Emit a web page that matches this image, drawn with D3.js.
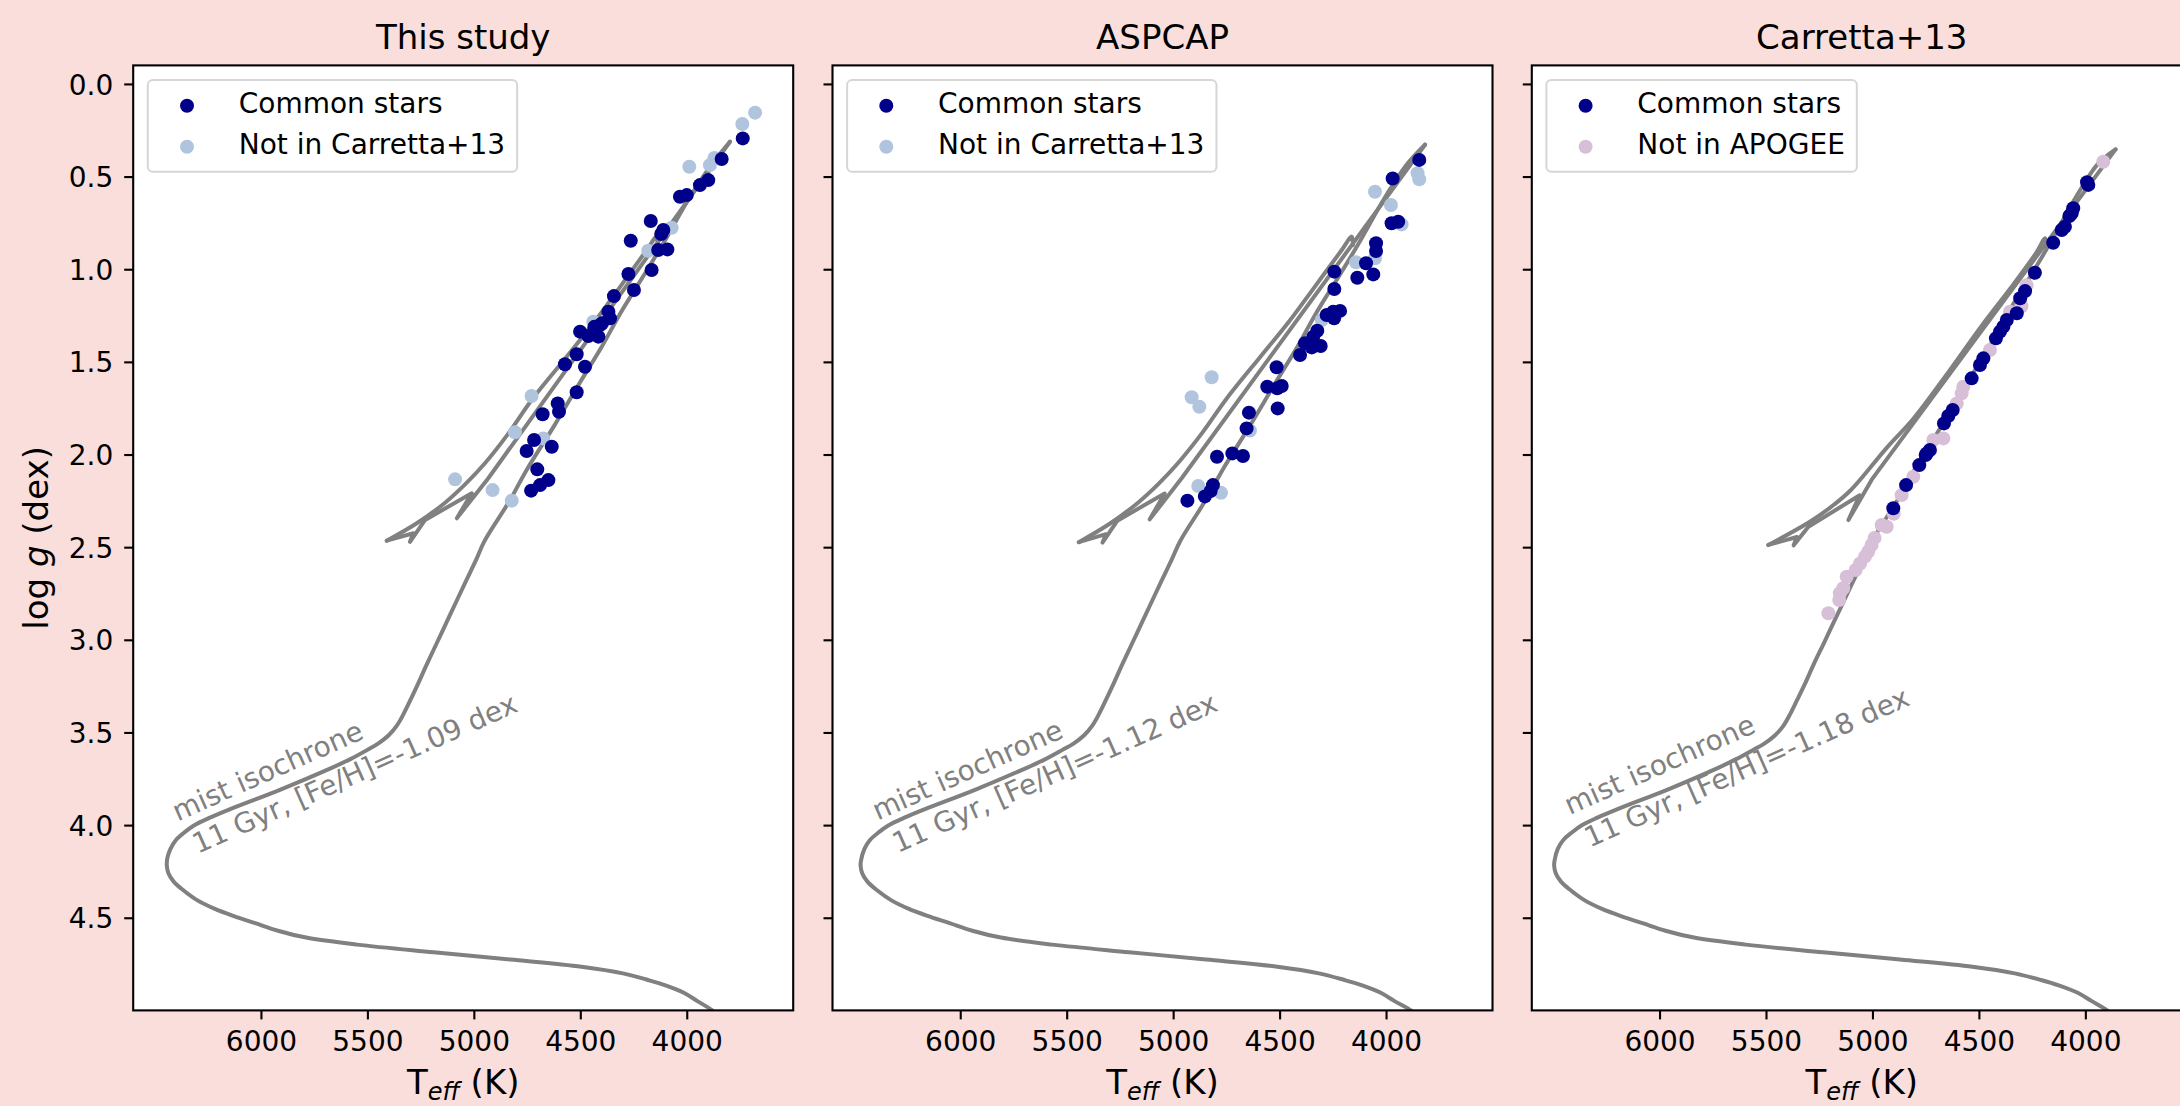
<!DOCTYPE html>
<html>
<head>
<meta charset="utf-8">
<script src="https://cdn.jsdelivr.net/npm/d3@7"></script>
<style>
  body { margin: 0; background: #f9dedc; }
  svg { display: block; font-family: "DejaVu Sans", sans-serif; }
</style>
</head>
<body>
<div class="canvas"></div>
<script>
// titles / legend texts
var titles = ["This study", "ASPCAP", "Carretta+13"];
var otherLabels = ["Not in Carretta+13", "Not in Carretta+13", "Not in APOGEE"];
var fehLabels = ["-1.09", "-1.12", "-1.18"];
var xTicks = [6000, 5500, 5000, 4500, 4000];
var yTicks = [0.0, 0.5, 1.0, 1.5, 2.0, 2.5, 3.0, 3.5, 4.0, 4.5];

// mist isochrones [Teff, logg], in three pieces: MS->RGB tip, tip->HB, HB->AGB
var rgb1 = [[3860,5.03],[3871,5.008],[3950,4.95],[4014,4.905],[4100,4.865],[4182,4.836],[4300,4.80],[4494,4.764],[4829,4.725],[5189,4.686],[5548,4.645],[5788,4.607],[5920,4.57],[6027,4.529],[6130,4.49],[6219,4.451],[6300,4.405],[6363,4.353],[6410,4.305],[6435,4.258],[6442,4.22],[6440,4.18],[6425,4.128],[6399,4.08],[6360,4.04],[6315,4.002],[6240,3.96],[6147,3.915],[5908,3.808],[5668,3.691],[5580,3.644],[5500,3.594],[5450,3.56],[5400,3.515],[5360,3.46],[5330,3.40],[5300,3.33],[5265,3.245],[5220,3.13],[5175,3.02],[5130,2.91],[5085,2.80],[5040,2.69],[4990,2.57],[4949,2.465],[4830,2.246],[4752,2.083],[4620,1.84],[4501,1.61],[4400,1.42],[4313,1.24],[4200,1.03],[4110,0.86],[3985,0.61],[3880,0.43],[3797,0.312]];
var hb1 = [[3797,0.312],[4932,2.128],[5080,2.344],[5010,2.209],[5229,2.353],[5300,2.471],[5284,2.425],[5409,2.465]];
var agb1 = [[5409,2.465],[5268,2.371],[5135,2.26],[5040,2.16],[4950,2.05],[4840,1.89],[4725,1.70],[4564,1.472],[4439,1.292],[4313,1.095],[4188,0.896],[4141,0.824],[4136,0.87]];

var rgb2 = [[3863,5.03],[3874,5.008],[3960,4.95],[4025,4.905],[4112,4.865],[4195,4.836],[4315,4.80],[4510,4.764],[4846,4.725],[5207,4.686],[5568,4.645],[5809,4.607],[5943,4.57],[6050,4.529],[6154,4.49],[6244,4.451],[6325,4.405],[6389,4.353],[6436,4.305],[6461,4.258],[6468,4.22],[6466,4.19],[6450,4.128],[6424,4.08],[6384,4.04],[6338,4.002],[6262,3.96],[6168,3.915],[5928,3.808],[5688,3.691],[5600,3.644],[5520,3.594],[5468,3.56],[5418,3.515],[5378,3.46],[5348,3.40],[5318,3.33],[5283,3.245],[5238,3.13],[5193,3.02],[5148,2.91],[5103,2.80],[5058,2.69],[5008,2.57],[4966,2.465],[4847,2.246],[4768,2.083],[4637,1.84],[4518,1.61],[4417,1.42],[4330,1.24],[4217,1.03],[4128,0.86],[4004,0.61],[3899,0.43],[3817,0.328]];
var hb2 = [[3817,0.328],[4960,2.128],[5110,2.35],[5040,2.21],[5262,2.357],[5332,2.476],[5316,2.43],[5443,2.473]];
var agb2 = [[5443,2.473],[5300,2.375],[5165,2.26],[5070,2.16],[4980,2.05],[4868,1.89],[4750,1.70],[4590,1.472],[4462,1.292],[4335,1.095],[4208,0.896],[4161,0.824],[4156,0.87]];

var rgb3 = [[3877,5.03],[3888,5.008],[3970,4.95],[4036,4.905],[4125,4.865],[4208,4.836],[4332,4.80],[4530,4.764],[4870,4.725],[5232,4.686],[5595,4.645],[5838,4.607],[5972,4.57],[6080,4.529],[6184,4.49],[6273,4.451],[6353,4.405],[6416,4.353],[6463,4.305],[6488,4.258],[6495,4.22],[6493,4.19],[6478,4.128],[6452,4.08],[6412,4.04],[6367,4.002],[6292,3.96],[6200,3.915],[5962,3.808],[5725,3.691],[5640,3.644],[5560,3.594],[5508,3.56],[5457,3.515],[5416,3.46],[5386,3.40],[5356,3.33],[5320,3.245],[5275,3.13],[5229,3.02],[5184,2.91],[5138,2.80],[5093,2.69],[5042,2.57],[5001,2.465],[4882,2.246],[4803,2.083],[4672,1.84],[4553,1.61],[4452,1.42],[4366,1.24],[4254,1.03],[4166,0.86],[4044,0.61],[3940,0.43],[3858,0.353]];
var hb3 = [[3858,0.353],[5000,2.13],[5113,2.354],[5060,2.22],[5301,2.39],[5370,2.49],[5355,2.445],[5489,2.488]];
var agb3 = [[5489,2.488],[5290,2.36],[5180,2.27],[5100,2.19],[4930,1.96],[4810,1.81],[4640,1.55],[4490,1.31],[4350,1.10],[4230,0.91],[4189,0.833],[4184,0.88]];

// where the "mist isochrone" note starts [Teff, logg]
var isoLabelAt = [[6391, 3.98], [6388, 3.975], [6422, 3.946]];

// This study
var common1 = [[3737,0.294],[3836,0.405],[3899,0.519],[3938,0.546],[4000,0.600],[4032,0.609],[4169,0.740],[4110,0.788],[4120,0.81],[4263,0.846],[4134,0.896],[4091,0.893],[4165,1.004],[4274,1.026],[4248,1.112],[4342,1.145],[4368,1.229],[4360,1.265],[4398,1.292],[4407,1.301],[4434,1.311],[4501,1.337],[4462,1.360],[4415,1.364],[4517,1.459],[4572,1.513],[4478,1.526],[4517,1.664],[4606,1.724],[4600,1.769],[4677,1.783],[4717,1.922],[4634,1.958],[4752,1.981],[4702,2.080],[4650,2.138],[4689,2.165],[4731,2.195]];
var other1 = [[3679,0.155],[3739,0.216],[3988,0.447],[3891,0.438],[3870,0.40],[4071,0.776],[4181,0.900],[4439,1.283],[4729,1.684],[4807,1.880],[4674,1.913],[5088,2.134],[4912,2.192],[4822,2.249]];
// ASPCAP
var common2 = [[3844,0.410],[3969,0.510],[3974,0.752],[3943,0.744],[4047,0.860],[4047,0.902],[4094,0.968],[4135,1.046],[4060,1.028],[4243,1.013],[4243,1.107],[4248,1.229],[4216,1.225],[4279,1.247],[4244,1.265],[4323,1.332],[4342,1.364],[4381,1.400],[4307,1.414],[4349,1.422],[4404,1.463],[4514,1.529],[4558,1.634],[4511,1.643],[4490,1.630],[4509,1.751],[4644,1.774],[4655,1.859],[4794,2.012],[4722,1.994],[4672,2.008],[4813,2.165],[4824,2.197],[4851,2.226],[4933,2.249]];
var other2 = [[3852,0.482],[3844,0.515],[4052,0.582],[3977,0.653],[3927,0.758],[4141,0.963],[4052,0.941],[4302,1.274],[4819,1.583],[4913,1.691],[4877,1.742],[4639,1.871],[4882,2.170],[4775,2.207]];
// Carretta+13
var common3 = [[3986,0.545],[3992,0.53],[4057,0.671],[4064,0.698],[4075,0.713],[4096,0.771],[4111,0.788],[4151,0.857],[4237,1.019],[4283,1.118],[4306,1.157],[4322,1.238],[4369,1.274],[4385,1.310],[4401,1.337],[4420,1.373],[4479,1.481],[4495,1.517],[4534,1.589],[4623,1.760],[4644,1.792],[4664,1.832],[4730,1.976],[4745,1.994],[4750,2.003],[4780,2.057],[4842,2.165],[4902,2.290]];
var other3 = [[3916,0.420],[4276,1.086],[4300,1.20],[4354,1.229],[4448,1.436],[4573,1.634],[4581,1.670],[4604,1.724],[4667,1.913],[4714,1.922],[4808,2.120],[4863,2.219],[4900,2.32],[4933,2.390],[4957,2.380],[4990,2.45],[5004,2.488],[5020,2.524],[5035,2.551],[5058,2.588],[5079,2.623],[5121,2.660],[5137,2.722],[5153,2.749],[5156,2.785],[5207,2.857]];

var isos = [[rgb1, hb1, agb1], [rgb2, hb2, agb2], [rgb3, hb3, agb3]];
var commons = [common1, common2, common3];
var others = [other1, other2, other3];
var otherColors = ["#b0c4de", "#b0c4de", "#d8bfd8"];

var width = 2180, height = 1106;
var panelLeft = [133.2, 832.5, 1531.8];
var panelTop = 65.4, pw = 660, ph = 945;
var small = "28px", big = "34px";

var svg = d3.select(".canvas").append("svg")
  .attr("width", width)
  .attr("height", height);
svg.append("rect").attr("width", width).attr("height", height).attr("fill", "#f9dedc");

for (var p = 0; p < 3; p++) {
  drawPanel(p);
}

function drawPanel(p) {
  var x = d3.scaleLinear().domain([6600, 3500]).range([0, pw]);
  var y = d3.scaleLinear().domain([-0.1, 5.0]).range([0, ph]);

  var g = svg.append("g").attr("transform", "translate(" + panelLeft[p] + "," + panelTop + ")");
  g.append("rect").attr("width", pw).attr("height", ph).attr("fill", "white");

  g.append("clipPath").attr("id", "clip" + p)
    .append("rect").attr("width", pw).attr("height", ph);
  var plot = g.append("g").attr("clip-path", "url(#clip" + p + ")");

  // isochrone: smooth pieces for the tracks, straight for the HB zigzag
  var curves = [d3.curveCatmullRom.alpha(0.5), d3.curveLinear, d3.curveCatmullRom.alpha(0.5)];
  isos[p].forEach(function(piece, k) {
    var line = d3.line().curve(curves[k])
      .x(function(d) { return x(d[0]); })
      .y(function(d) { return y(d[1]); });
    plot.append("path").datum(piece)
      .attr("d", line)
      .attr("fill", "none")
      .attr("stroke", "#808080")
      .attr("stroke-width", 4)
      .attr("stroke-linejoin", "round")
      .attr("stroke-linecap", "round");
  });

  // isochrone note, rotated
  var lab = g.append("g")
    .attr("transform", "translate(" + x(isoLabelAt[p][0]) + "," + y(isoLabelAt[p][1]) + ") rotate(-24)")
    .attr("fill", "#808080")
    .attr("font-size", small);
  lab.append("text").text("mist isochrone");
  lab.append("text").attr("x", 5).attr("y", 38).text("11 Gyr, [Fe/H]=" + fehLabels[p] + " dex");

  // stars
  plot.selectAll(".other").data(others[p]).enter().append("circle")
    .attr("cx", function(d) { return x(d[0]); })
    .attr("cy", function(d) { return y(d[1]); })
    .attr("r", 7)
    .attr("fill", otherColors[p]);
  plot.selectAll(".common").data(commons[p]).enter().append("circle")
    .attr("cx", function(d) { return x(d[0]); })
    .attr("cy", function(d) { return y(d[1]); })
    .attr("r", 7)
    .attr("fill", "#00008b");

  // axes
  var ax = g.append("g").attr("transform", "translate(0," + ph + ")")
    .call(d3.axisBottom(x).tickValues(xTicks).tickSize(9).tickPadding(12).tickFormat(d3.format("d")));
  var ay = g.append("g")
    .call(d3.axisLeft(y).tickValues(yTicks).tickSize(9).tickPadding(11)
      .tickFormat(p == 0 ? d3.format(".1f") : function() { return ""; }));
  [ax, ay].forEach(function(a) {
    a.select(".domain").remove();
    a.selectAll("line").attr("stroke", "black").attr("stroke-width", 2.1);
    a.selectAll("text").attr("font-size", small).attr("font-family", "DejaVu Sans").attr("fill", "black");
  });
  ay.selectAll("text").attr("dy", "0.36em");

  // frame
  g.append("rect").attr("width", pw).attr("height", ph)
    .attr("fill", "none").attr("stroke", "black").attr("stroke-width", 2.1);

  // title
  g.append("text").attr("x", pw / 2).attr("y", -16)
    .attr("text-anchor", "middle").attr("font-size", big)
    .text(titles[p]);

  // x label
  var xl = g.append("text").attr("x", pw / 2).attr("y", 1094 - panelTop)
    .attr("text-anchor", "middle").attr("font-size", big);
  xl.append("tspan").text("T");
  xl.append("tspan").attr("font-size", "24px").attr("font-style", "italic").attr("dy", 6).text("eff");
  xl.append("tspan").attr("dy", -6).text(" (K)");

  if (p == 0) {
    var yl = g.append("text")
      .attr("transform", "translate(" + (48 - panelLeft[0]) + "," + (ph / 2) + ") rotate(-90)")
      .attr("text-anchor", "middle").attr("font-size", big);
    yl.append("tspan").text("log ");
    yl.append("tspan").attr("font-style", "italic").text("g");
    yl.append("tspan").text(" (dex)");
  }

  // legend
  var leg = g.append("g");
  var box = leg.append("rect")
    .attr("x", 14.6).attr("y", 14.6).attr("height", 91.7)
    .attr("rx", 5).attr("ry", 5)
    .attr("fill", "white").attr("fill-opacity", 0.8)
    .attr("stroke", "#cccccc").attr("stroke-opacity", 0.8).attr("stroke-width", 2);
  var rows = [["Common stars", "#00008b"], [otherLabels[p], otherColors[p]]];
  var maxLen = 0;
  rows.forEach(function(r, i) {
    var ry = 40.3 + i * 41;
    leg.append("circle").attr("cx", 53.8).attr("cy", ry).attr("r", 7).attr("fill", r[1]);
    var t = leg.append("text").attr("x", 105.5).attr("y", ry + 7.5)
      .attr("font-size", small).text(r[0]);
    maxLen = Math.max(maxLen, t.node().getComputedTextLength());
  });
  box.attr("width", 105.5 + maxLen + 12 - 14.6);
}
</script>
</body>
</html>
